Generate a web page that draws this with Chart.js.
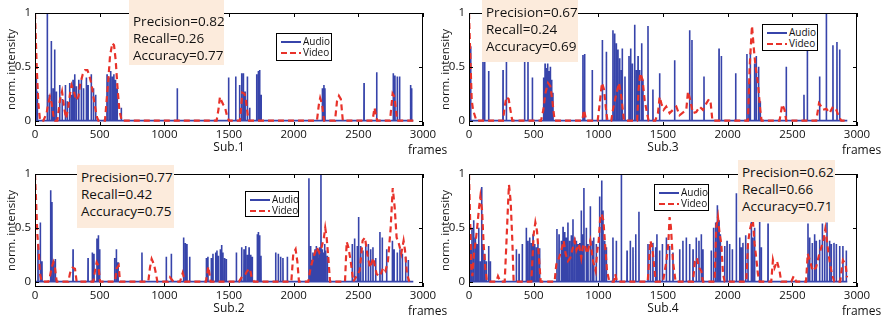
<!DOCTYPE html>
<html>
<head>
<meta charset="utf-8">
<script src="https://cdn.jsdelivr.net/npm/chart.js@4.4.0/dist/chart.umd.min.js"></script>
<style>
  body { margin: 0; background: #fff; }
  #fig { position: relative; width: 881px; height: 320px; overflow: hidden; font-family: "Open Sans", sans-serif; color: #111; }
  #fig canvas { position: absolute; left: 0; }
  .stats { position: absolute; background: #fcebdc; font-size: 13.5px; line-height: 17px; padding-left: 4px; box-sizing: border-box; white-space: nowrap; }
  .leg { position: absolute; background: #fff; border: 1px solid #000; font-size: 10px; box-sizing: border-box; padding-top: 2px; }
  .leg .row { position: relative; height: 11px; line-height: 11px; padding-left: 26px; }
  .leg .smp { position: absolute; left: 4px; top: 5px; width: 20px; height: 2px; }
</style>
</head>
<body>
<div id="fig"></div>
<script>
// ticks, names, scores
const xTicks = [0, 500, 1000, 1500, 2000, 2500, 3000];
const yTicks = [0, 0.5, 1];
const seriesNames = ['Audio', 'Video'];
const subjects = ['Sub.1', 'Sub.2', 'Sub.3', 'Sub.4'];
const precision = [0.82, 0.77, 0.67, 0.62];
const recall = [0.26, 0.42, 0.24, 0.66];
const accuracy = [0.77, 0.75, 0.69, 0.71];

// Sub.1
const audio1X = [5, 10, 18, 95, 110, 126, 140, 152, 165, 191, 210, 235, 250, 268, 282, 294, 307, 320, 338, 358, 375, 397, 410, 435, 452, 469, 557, 572, 585, 598, 610, 622, 635, 667, 1100, 1497, 1552, 1582, 1598, 1611, 1624, 1642, 1660, 1714, 1727, 1737, 1748, 2222, 2234, 2242, 2544, 2642, 2770, 2783, 2801, 2819, 2904, 2912];
const audio1Y = [0.42, 0.4, 0.27, 1.0, 0.24, 0.74, 0.3, 0.66, 0.27, 0.33, 0.2, 0.33, 0.18, 0.35, 0.24, 0.38, 0.43, 0.32, 0.38, 0.38, 0.3, 0.4, 0.33, 0.43, 0.3, 0.24, 0.43, 0.4, 0.46, 0.41, 0.43, 0.38, 0.3, 0.12, 0.3, 0.4, 0.41, 0.33, 0.44, 0.44, 0.27, 0.41, 0.12, 0.43, 0.46, 0.47, 0.24, 0.3, 0.33, 0.3, 0.35, 0.45, 0.44, 0.42, 0.41, 0.41, 0.33, 0.3];
const video1X = [0, 13, 26, 39, 65, 90, 103, 116, 129, 142, 155, 173, 193, 209, 224, 240, 258, 271, 283, 301, 317, 335, 348, 369, 387, 405, 420, 438, 456, 477, 490, 541, 554, 567, 580, 598, 611, 624, 637, 652, 670, 1404, 1418, 1430, 1443, 1455, 1470, 1485, 1500, 1585, 1603, 1620, 1630, 1645, 1655, 2180, 2195, 2205, 2220, 2235, 2320, 2335, 2350, 2365, 2380, 2610, 2625, 2645, 2745, 2765, 2780, 2800, 2925];
const video1Y = [1.0, 0.5, 0.16, 0, 0, 0.07, 0.16, 0.22, 0.16, 0.05, 0, 0, 0.19, 0.27, 0.13, 0.02, 0.13, 0.25, 0.33, 0.27, 0.19, 0.22, 0.33, 0.43, 0.47, 0.47, 0.42, 0.33, 0.19, 0.04, 0, 0, 0.19, 0.38, 0.6, 0.72, 0.7, 0.56, 0.32, 0.1, 0, 0, 0.1, 0.22, 0.18, 0.15, 0.12, 0.04, 0, 0, 0.26, 0.25, 0.2, 0.05, 0, 0, 0.15, 0.21, 0.15, 0, 0, 0.18, 0.23, 0.2, 0, 0, 0.12, 0, 0, 0.25, 0.22, 0, 0];

// Sub.2
const audio2X = [23, 41, 54, 121, 131, 144, 157, 294, 410, 443, 456, 479, 490, 500, 616, 629, 642, 827, 1015, 1054, 1149, 1162, 1175, 1196, 1325, 1337, 1363, 1376, 1397, 1407, 1417, 1433, 1443, 1453, 1466, 1479, 1557, 1598, 1616, 1629, 1642, 1655, 1668, 1680, 1719, 1727, 1737, 1747, 1861, 1881, 1899, 1917, 1951, 2118, 2131, 2140, 2149, 2157, 2165, 2175, 2188, 2195, 2201, 2211, 2221, 2234, 2240, 2247, 2260, 2453, 2471, 2492, 2500, 2505, 2518, 2536, 2557, 2577, 2595, 2613, 2634, 2667, 2685, 2719, 2763, 2776, 2801, 2822, 2840, 2866, 2886];
const audio2Y = [0.35, 0.55, 0.19, 0.85, 0.74, 0.19, 0.21, 0.3, 0.22, 0.27, 0.26, 0.4, 0.43, 0.3, 0.22, 0.3, 0.18, 0.27, 0.23, 0.26, 0.41, 0.36, 0.35, 0.23, 0.22, 0.23, 0.22, 0.26, 0.27, 0.29, 0.24, 0.3, 0.34, 0.27, 0.22, 0.21, 0.27, 0.32, 0.3, 0.33, 0.25, 0.32, 0.25, 0.23, 0.44, 0.46, 0.43, 0.24, 0.27, 0.26, 0.23, 0.22, 0.23, 0.96, 0.33, 0.2, 0.27, 0.25, 0.3, 0.33, 0.29, 0.22, 0.32, 1.0, 0.3, 0.27, 0.35, 0.29, 0.24, 0.35, 0.4, 0.33, 0.6, 0.3, 0.33, 0.29, 0.35, 0.35, 0.3, 0.32, 0.22, 0.46, 0.41, 0.3, 0.38, 0.3, 0.27, 0.3, 0.26, 0.23, 0.2];
const video2X = [0, 8, 18, 28, 39, 52, 103, 116, 129, 142, 155, 168, 258, 271, 291, 309, 322, 451, 464, 477, 490, 503, 619, 631, 647, 657, 876, 889, 902, 920, 936, 946, 1030, 1044, 1070, 1121, 1142, 1160, 1322, 1340, 1358, 1577, 1603, 1628, 1641, 1662, 1675, 1693, 1982, 1997, 2015, 2028, 2041, 2113, 2131, 2152, 2178, 2198, 2216, 2234, 2244, 2255, 2268, 2281, 2397, 2410, 2423, 2441, 2461, 2510, 2533, 2551, 2569, 2590, 2616, 2641, 2667, 2693, 2710, 2729, 2750, 2766, 2781, 2796, 2814, 2832, 2850, 2861, 2876, 2894];
const video2Y = [1.0, 0.76, 0.44, 0.29, 0.07, 0, 0, 0.05, 0.13, 0.18, 0.12, 0, 0, 0.08, 0.13, 0.12, 0, 0, 0.1, 0.18, 0.15, 0, 0, 0.12, 0.15, 0, 0, 0.13, 0.21, 0.16, 0.07, 0, 0, 0.04, 0, 0, 0.08, 0, 0, 0.14, 0, 0, 0.05, 0.07, 0.1, 0.12, 0.04, 0, 0, 0.26, 0.3, 0.19, 0, 0, 0.13, 0.22, 0.32, 0.27, 0.32, 0.41, 0.5, 0.41, 0.22, 0, 0, 0.37, 0.32, 0.19, 0, 0.1, 0.38, 0.41, 0.26, 0.13, 0.22, 0.07, 0.05, 0.13, 0.1, 0.19, 0.5, 0.87, 0.69, 0.41, 0.35, 0.26, 0.38, 0.29, 0.07, 0];

// Sub.3
const audio3X = [13, 108, 121, 152, 263, 289, 430, 456, 490, 577, 588, 598, 608, 618, 629, 639, 649, 881, 894, 953, 1031, 1062, 1113, 1126, 1139, 1152, 1165, 1178, 1185, 1206, 1237, 1250, 1263, 1281, 1294, 1307, 1319, 1335, 1345, 1384, 1422, 1474, 1590, 1706, 1724, 1817, 1933, 1951, 2062, 2149, 2165, 2175, 2208, 2221, 2239, 2252, 2453, 2590, 2616, 2711, 2763, 2814, 2845, 2866];
const audio3Y = [0.69, 0.55, 0.55, 0.46, 0.47, 0.55, 0.55, 0.55, 0.4, 0.4, 0.53, 0.49, 0.53, 0.46, 0.5, 0.38, 0.26, 0.61, 0.62, 0.47, 0.75, 0.64, 0.84, 0.81, 0.72, 0.66, 0.58, 0.47, 0.67, 0.41, 0.6, 0.67, 0.53, 0.89, 0.47, 0.6, 0.47, 0.72, 0.38, 0.88, 0.29, 0.44, 0.56, 0.84, 0.75, 0.41, 0.67, 0.6, 0.44, 0.62, 0.35, 0.63, 0.53, 0.6, 0.5, 0.18, 0.5, 0.24, 0.66, 0.41, 1.0, 0.7, 0.73, 0.66];
const video3X = [0, 10, 21, 31, 44, 57, 263, 276, 289, 307, 320, 335, 557, 575, 590, 611, 629, 644, 662, 876, 889, 907, 995, 1008, 1028, 1044, 1057, 1070, 1100, 1113, 1139, 1160, 1178, 1198, 1300, 1311, 1324, 1342, 1358, 1376, 1389, 1440, 1461, 1474, 1487, 1505, 1525, 1551, 1577, 1603, 1628, 1680, 1693, 1711, 1731, 1757, 1783, 1809, 1835, 1856, 1869, 1882, 2157, 2170, 2188, 2203, 2216, 2234, 2252, 2262, 2401, 2422, 2440, 2453, 2685, 2706, 2724, 2737, 2763, 2788, 2814, 2840, 2858, 2878, 2925];
const video3Y = [1.0, 0.6, 0.19, 0.1, 0.05, 0, 0, 0.13, 0.22, 0.2, 0.1, 0, 0, 0.1, 0.25, 0.35, 0.32, 0.19, 0, 0, 0.1, 0, 0, 0.13, 0.35, 0.29, 0.13, 0, 0, 0.1, 0.25, 0.35, 0.22, 0, 0, 0.29, 0.44, 0.38, 0.19, 0.07, 0, 0, 0.07, 0.22, 0.16, 0.1, 0.13, 0.07, 0.1, 0.13, 0.05, 0.1, 0.27, 0.19, 0.07, 0.08, 0.13, 0.1, 0.16, 0.2, 0.16, 0, 0, 0.5, 0.88, 0.66, 0.5, 0.35, 0.1, 0, 0, 0.15, 0.1, 0, 0, 0.16, 0.13, 0.1, 0.11, 0.07, 0.13, 0.1, 0.04, 0, 0];

// Sub.4
const audio4X = [10, 23, 36, 49, 62, 75, 88, 98, 108, 121, 134, 152, 165, 366, 387, 412, 443, 456, 469, 482, 495, 508, 521, 533, 546, 680, 696, 714, 727, 740, 752, 765, 778, 791, 804, 817, 830, 843, 856, 868, 881, 889, 907, 920, 938, 953, 964, 984, 1010, 1026, 1036, 1049, 1062, 1113, 1139, 1178, 1222, 1247, 1268, 1289, 1314, 1384, 1402, 1422, 1443, 1453, 1474, 1495, 1526, 1551, 1577, 1629, 1654, 1680, 1706, 1732, 1757, 1778, 1796, 1809, 1873, 1891, 1907, 1920, 1933, 1943, 1977, 1995, 2015, 2036, 2067, 2093, 2105, 2118, 2139, 2157, 2183, 2195, 2208, 2247, 2260, 2312, 2621, 2634, 2654, 2672, 2685, 2711, 2732, 2750, 2768, 2788, 2801, 2822, 2840, 2866, 2891, 2917];
const audio4Y = [0.35, 0.5, 0.57, 0.41, 0.35, 0.5, 0.19, 0.88, 0.35, 0.26, 0.19, 0.33, 0.19, 0.3, 0.26, 0.35, 0.5, 0.38, 0.41, 0.36, 0.44, 0.35, 0.32, 0.35, 0.31, 0.49, 0.44, 0.38, 0.51, 0.46, 0.41, 0.55, 0.38, 0.43, 0.58, 0.41, 0.38, 0.35, 0.36, 0.66, 0.44, 0.87, 0.5, 0.35, 0.7, 0.38, 0.41, 0.35, 0.79, 0.94, 0.66, 0.38, 0.32, 0.41, 0.38, 1.0, 0.29, 0.38, 0.32, 0.44, 0.65, 0.35, 0.31, 0.36, 0.32, 0.44, 0.29, 0.35, 0.41, 0.33, 0.27, 0.3, 0.38, 0.41, 0.35, 0.3, 0.41, 0.38, 0.44, 0.3, 0.29, 0.5, 0.55, 0.71, 0.57, 0.44, 0.33, 0.38, 0.35, 0.3, 0.82, 0.41, 0.32, 0.36, 0.43, 0.33, 0.83, 0.41, 0.5, 0.58, 0.32, 0.54, 0.54, 0.41, 0.36, 0.44, 0.38, 0.39, 0.54, 0.41, 0.55, 0.38, 0.35, 0.36, 0.35, 0.33, 0.33, 0.29];
const video4X = [0, 10, 18, 26, 39, 52, 64, 77, 88, 101, 113, 126, 139, 211, 224, 242, 276, 289, 302, 309, 322, 335, 345, 482, 500, 513, 526, 539, 554, 662, 675, 696, 714, 732, 747, 765, 783, 804, 817, 830, 850, 868, 884, 899, 915, 938, 959, 979, 992, 1003, 1015, 1026, 1039, 1052, 1067, 1085, 1120, 1130, 1145, 1382, 1402, 1417, 1428, 1443, 1500, 1526, 1541, 1551, 1561, 1577, 1597, 1732, 1747, 1763, 1778, 1796, 1809, 1899, 1912, 1925, 1938, 1951, 1964, 1977, 2144, 2157, 2170, 2183, 2195, 2208, 2221, 2234, 2247, 2337, 2350, 2363, 2381, 2401, 2414, 2492, 2510, 2530, 2606, 2619, 2637, 2657, 2683, 2709, 2740, 2755, 2770, 2788, 2806, 2825, 2870, 2891, 2912, 2923];
const video4Y = [1.0, 0.51, 0.13, 0.05, 0.26, 0.38, 0.51, 0.68, 0.79, 0.66, 0.35, 0.13, 0, 0, 0.05, 0, 0, 0.35, 0.72, 0.9, 0.75, 0.38, 0, 0, 0.44, 0.55, 0.47, 0.26, 0, 0, 0.16, 0.22, 0.29, 0.38, 0.26, 0.19, 0.22, 0.32, 0.38, 0.29, 0.35, 0.22, 0.35, 0.32, 0.26, 0.38, 0.19, 0.1, 0.29, 0.38, 0.6, 0.63, 0.57, 0.35, 0.1, 0, 0, 0.07, 0, 0, 0.38, 0.32, 0.19, 0, 0, 0.19, 0.35, 0.6, 0.51, 0.19, 0, 0, 0.19, 0.22, 0.13, 0.1, 0, 0, 0.51, 0.6, 0.44, 0.35, 0.07, 0, 0, 0.35, 0.47, 0.54, 0.57, 0.35, 0.22, 0.07, 0, 0, 0.2, 0.13, 0.19, 0.1, 0, 0, 0.05, 0, 0, 0.26, 0.19, 0.1, 0.13, 0.26, 0.38, 0.49, 0.35, 0.19, 0.07, 0, 0, 0.2, 0.16, 0.04];

const audioSeries = [[audio1X, audio1Y], [audio2X, audio2Y], [audio3X, audio3Y], [audio4X, audio4Y]];
const videoSeries = [[video1X, video1Y], [video2X, video2Y], [video3X, video3Y], [video4X, video4Y]];

// where each panel sits on the page
const layouts = [
  { top: 0,   area: [35, 13, 423, 126],  stats: [129, 0, 95, 65, 13],  legend: [276, 33, 56, 28] },
  { top: 160, area: [35, 14, 423, 127],  stats: [77, 165, 97, 63, 4],  legend: [245, 191, 54, 26] },
  { top: 0,   area: [469, 13, 857, 126], stats: [482, 0, 96, 62, 4],   legend: [762, 24, 56, 27] },
  { top: 160, area: [469, 14, 857, 127], stats: [738, 160, 97, 62, 4], legend: [654, 184, 55, 27] }
];

const blue = '#3744aa';
const red = '#e8322a';

// audio is a train of thin spikes over a zero baseline
function spikeTrace(xs, hs) {
  const pts = [{ x: 0, y: 0 }];
  const n = Math.min(xs.length, hs.length);
  for (let i = 0; i < n; i++) {
    pts.push({ x: xs[i] - 1, y: 0 }, { x: xs[i], y: hs[i] }, { x: xs[i] + 1, y: 0 });
  }
  pts.push({ x: 2925, y: 0 });
  return pts.sort((a, b) => a.x - b.x);
}

function curve(xs, ys) {
  const pts = [];
  const n = Math.min(xs.length, ys.length);
  for (let i = 0; i < n; i++) pts.push({ x: xs[i], y: ys[i] });
  return pts;
}

// MATLAB-like box axes with inward ticks
const matlabAxes = {
  id: 'matlabAxes',
  afterDatasetsDraw(chart, args, opts) {
    const { ctx, chartArea: a, scales: { x, y } } = chart;
    ctx.save();
    ctx.strokeStyle = '#000';
    ctx.lineWidth = 1;
    ctx.strokeRect(a.left + 0.5, a.top + 0.5, a.width - 1, a.height - 1);
    ctx.beginPath();
    xTicks.forEach(v => {
      const px = Math.round(x.getPixelForValue(v)) + 0.5;
      ctx.moveTo(px, a.bottom); ctx.lineTo(px, a.bottom - 4);
      ctx.moveTo(px, a.top); ctx.lineTo(px, a.top + 4);
    });
    yTicks.forEach(v => {
      const py = Math.round(y.getPixelForValue(v)) + 0.5;
      ctx.moveTo(a.left, py); ctx.lineTo(a.left + 4, py);
      ctx.moveTo(a.right, py); ctx.lineTo(a.right - 4, py);
    });
    ctx.stroke();

    ctx.fillStyle = '#111';
    ctx.font = '11.5px "Open Sans"';
    ctx.textAlign = 'center';
    ctx.textBaseline = 'top';
    xTicks.forEach(v => ctx.fillText(String(v), x.getPixelForValue(v), a.bottom + 3));
    ctx.textAlign = 'right';
    ctx.textBaseline = 'middle';
    yTicks.forEach(v => ctx.fillText(String(v), a.left - 4, y.getPixelForValue(v)));

    ctx.font = '12px "Open Sans"';
    ctx.textAlign = 'center';
    ctx.fillText(opts.title, (a.left + a.right) / 2, a.bottom + 22);
    ctx.textAlign = 'left';
    ctx.fillText('frames', a.right - 15, a.bottom + 25);

    ctx.font = '11.5px "Open Sans"';
    ctx.translate(a.left - 23, (a.top + a.bottom) / 2);
    ctx.rotate(-Math.PI / 2);
    ctx.textAlign = 'center';
    ctx.fillText('norm. intensity', 0, 0);
    ctx.restore();
  }
};

const fig = document.getElementById('fig');

subjects.forEach((sub, k) => {
  const L = layouts[k];
  const cv = document.createElement('canvas');
  cv.width = 881; cv.height = 160;
  cv.style.top = L.top + 'px';
  fig.appendChild(cv);

  const chart = new Chart(cv, {
    type: 'line',
    data: {
      datasets: [
        { label: seriesNames[0], data: spikeTrace(audioSeries[k][0], audioSeries[k][1]),
          borderColor: blue, borderWidth: 1.6, pointRadius: 0, tension: 0, order: 1 },
        { label: seriesNames[1], data: curve(videoSeries[k][0], videoSeries[k][1]),
          borderColor: red, borderWidth: 2.2, borderDash: [6, 4], pointRadius: 0, tension: 0, order: 0 }
      ]
    },
    options: {
      responsive: false,
      animation: false,
      devicePixelRatio: 1,
      layout: { padding: { left: L.area[0], top: L.area[1], right: 881 - L.area[2], bottom: 160 - L.area[3] } },
      scales: {
        x: { type: 'linear', min: 0, max: 3000, display: false },
        y: { type: 'linear', min: -0.05, max: 1, display: false }
      },
      plugins: {
        legend: { display: false },
        tooltip: { enabled: false },
        matlabAxes: { title: sub }
      }
    },
    plugins: [matlabAxes]
  });

  // score box
  const s = L.stats;
  const box = document.createElement('div');
  box.className = 'stats';
  box.style.cssText += `left:${s[0]}px;top:${s[1]}px;width:${s[2]}px;height:${s[3]}px;padding-top:${s[4]}px;`;
  box.innerHTML = `<div>Precision=${precision[k].toFixed(2)}</div><div>Recall=${recall[k].toFixed(2)}</div><div>Accuracy=${accuracy[k].toFixed(2)}</div>`;
  fig.appendChild(box);

  // legend from the chart's datasets
  const g = L.legend;
  const leg = document.createElement('div');
  leg.className = 'leg';
  leg.style.cssText += `left:${g[0]}px;top:${g[1]}px;width:${g[2]}px;height:${g[3]}px;`;
  chart.data.datasets.forEach(ds => {
    const row = document.createElement('div');
    row.className = 'row';
    const smp = document.createElement('span');
    smp.className = 'smp';
    if (ds.borderDash) {
      smp.style.background = `repeating-linear-gradient(90deg, ${ds.borderColor} 0 6px, transparent 6px 9px)`;
    } else {
      smp.style.background = ds.borderColor;
    }
    row.appendChild(smp);
    row.appendChild(document.createTextNode(ds.label));
    leg.appendChild(row);
  });
  fig.appendChild(leg);
});
</script>
</body>
</html>
